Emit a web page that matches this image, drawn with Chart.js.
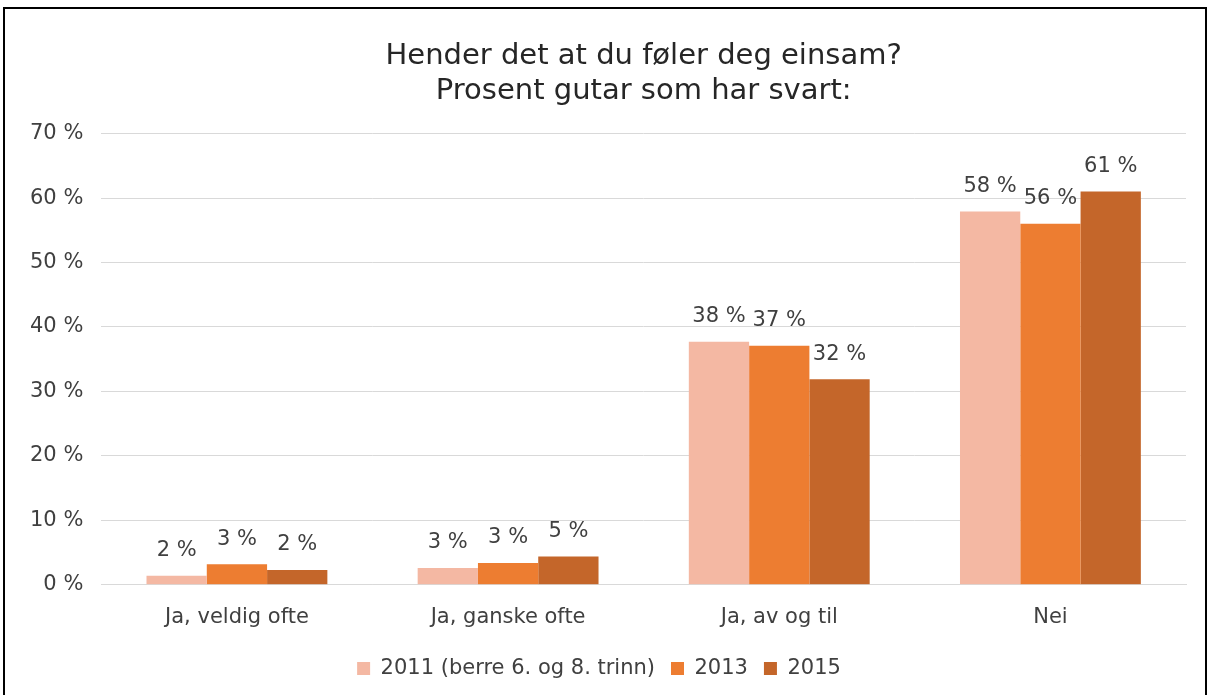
<!DOCTYPE html>
<html>
<head>
<meta charset="utf-8">
<script src="https://cdn.jsdelivr.net/npm/chart.js@4"></script>
<style>
  html, body { margin: 0; padding: 0; background: #fff; }
  #wrap { position: relative; width: 1212px; height: 695px; }
  #frame {
    position: absolute; left: 3px; top: 7px; width: 1200px; height: 700px;
    border: 2px solid #000; pointer-events: none;
  }
</style>
</head>
<body>
<div id="wrap">
  <canvas id="chart" width="1212" height="695"></canvas>
  <div id="frame"></div>
</div>
<script>
var categories = ['Ja, veldig ofte', 'Ja, ganske ofte', 'Ja, av og til', 'Nei'];
var seriesNames = ['2011 (berre 6. og 8. trinn)', '2013', '2015'];
var values2011 = [1.4, 2.6, 37.7, 57.9];
var values2013 = [3.2, 3.4, 37.1, 56.0];
var values2015 = [2.3, 4.4, 31.9, 61.0];
var labels2011 = ['2 %', '3 %', '38 %', '58 %'];
var labels2013 = ['3 %', '3 %', '37 %', '56 %'];
var labels2015 = ['2 %', '5 %', '32 %', '61 %'];
var colors = ['#F4B8A3', '#ED7D31', '#C4662A'];

var fontFamily = '"DejaVu Sans", Verdana, sans-serif';
var textSize = 21;

// draws the value text above each bar
var barLabels = {
    id: 'barLabels',
    afterDatasetsDraw: function (chart) {
        var ctx = chart.ctx;
        ctx.save();
        ctx.font = textSize + 'px ' + fontFamily;
        ctx.fillStyle = '#404040';
        ctx.textAlign = 'center';
        ctx.textBaseline = 'middle';
        chart.data.datasets.forEach(function (ds, i) {
            chart.getDatasetMeta(i).data.forEach(function (bar, j) {
                ctx.fillText(ds.valueLabels[j], bar.x, bar.y - 25);
            });
        });
        ctx.restore();
    }
};

var data = {
    labels: categories,
    datasets: [
        { label: seriesNames[0], data: values2011, valueLabels: labels2011, backgroundColor: colors[0] },
        { label: seriesNames[1], data: values2013, valueLabels: labels2013, backgroundColor: colors[1] },
        { label: seriesNames[2], data: values2015, valueLabels: labels2015, backgroundColor: colors[2] },
    ],
};

var options = {
    responsive: false,
    animation: false,
    layout: { padding: { left: 12, right: 26, top: 39, bottom: 6 } },
    datasets: {
        bar: { categoryPercentage: 0.667, barPercentage: 1.0 },
    },
    plugins: {
        title: {
            display: true,
            fullSize: false,
            text: ['Hender det at du føler deg einsam?', 'Prosent gutar som har svart:'],
            color: '#262626',
            font: { family: fontFamily, size: 29, weight: 'normal', lineHeight: 1.2 },
            padding: { top: 0, bottom: 25 },
        },
        legend: {
            position: 'bottom',
            labels: {
                color: '#404040',
                font: { family: fontFamily, size: textSize },
                boxWidth: 13,
                boxHeight: 13,
                padding: 16,
            },
        },
        tooltip: { enabled: false },
    },
    scales: {
        x: {
            grid: { display: false },
            border: { color: '#d9d9d9' },
            ticks: { color: '#404040', font: { family: fontFamily, size: textSize }, padding: 12 },
        },
        y: {
            min: 0,
            max: 70,
            ticks: {
                stepSize: 10,
                color: '#404040',
                font: { family: fontFamily, size: textSize },
                padding: 18,
                callback: function (v) { return v + ' %'; },
            },
            grid: { color: '#d9d9d9', drawTicks: false },
            border: { display: false },
        },
    },
};

var ctx = document.getElementById('chart').getContext('2d');
var myChart = new Chart(ctx, { type: 'bar', data: data, options: options, plugins: [barLabels] });
</script>
</body>
</html>
